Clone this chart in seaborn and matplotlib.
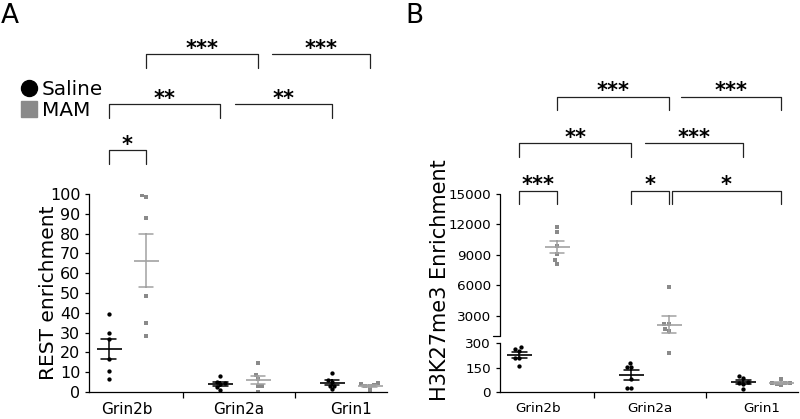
import numpy as np
import pandas as pd
import matplotlib
matplotlib.use("Agg")
import matplotlib.pyplot as plt
import matplotlib.ticker as mticker
import seaborn as sns
from matplotlib.lines import Line2D

# ---------------- data ----------------
genes = ["Grin2b", "Grin2a", "Grin1"]
groups = ["Saline", "MAM"]

# Panel A: REST enrichment
rest_saline_grin2b = [39.2, 29.8, 26.8, 16.8, 10.8, 6.7]
rest_mam_grin2b = [99.5, 98.7, 88.0, 48.7, 34.7, 28.5]
rest_saline_grin2a = [8.1, 5.0, 4.6, 3.8, 2.5, 1.2]
rest_mam_grin2a = [14.8, 8.4, 6.4, 3.2, 3.2, 0.2]
rest_saline_grin1 = [9.4, 6.1, 5.2, 3.2, 3.2, 1.3]
rest_mam_grin1 = [4.4, 4.0, 3.5, 3.2, 3.2, 1.0]

# Panel B: H3K27me3 enrichment
h3_saline_grin2b = [279, 265, 254, 207, 207, 159]
h3_mam_grin2b = [11754, 11233, 9915, 9098, 8508, 8145]
h3_saline_grin2a = [180, 155, 155, 79, 25, 25]
h3_mam_grin2a = [5882, 2213, 2180, 1692, 1525, 240]
h3_saline_grin1 = [95, 87, 58, 55, 48, 14]
h3_mam_grin1 = [79, 52, 52, 52, 48, 41]

a_ticks = list(range(0, 101, 10))
b_ticks = [0, 150, 300, 3000, 6000, 9000, 12000, 15000]

# significance brackets: (gene0, group0, shift0, gene1, group1, row, label, left_leg)
brackets_a = [
    ("Grin2b", "Saline", 0.0, "Grin2b", "MAM", 0, "*", True),
    ("Grin2b", "Saline", 0.0, "Grin2a", "Saline", 1, "**", True),
    ("Grin2a", "Saline", 0.135, "Grin1", "Saline", 1, "**", False),
    ("Grin2b", "MAM", 0.0, "Grin2a", "MAM", 2, "***", True),
    ("Grin2a", "MAM", 0.13, "Grin1", "MAM", 2, "***", False),
]
brackets_b = [
    ("Grin2b", "Saline", 0.0, "Grin2b", "MAM", 0, "***", True),
    ("Grin2a", "Saline", 0.0, "Grin2a", "MAM", 0, "*", True),
    ("Grin2a", "MAM", 0.025, "Grin1", "MAM", 0, "*", True),
    ("Grin2b", "Saline", 0.0, "Grin2a", "Saline", 1, "**", True),
    ("Grin2a", "Saline", 0.125, "Grin1", "Saline", 1, "***", False),
    ("Grin2b", "MAM", 0.0, "Grin2a", "MAM", 2, "***", True),
    ("Grin2a", "MAM", 0.11, "Grin1", "MAM", 2, "***", False),
]

DODGE = 0.335
group_offset = {"Saline": -DODGE / 2, "MAM": DODGE / 2}


def long_df(table):
    rows = []
    for (gene, grp), vals in table.items():
        for v in vals:
            rows.append((gene, grp, v))
    df = pd.DataFrame(rows, columns=["gene", "group", "value"])
    # categorical slot of each group within its gene
    df["pos"] = df["gene"].map(genes.index) + df["group"].map(group_offset)
    return df


df_a = long_df({
    ("Grin2b", "Saline"): rest_saline_grin2b, ("Grin2b", "MAM"): rest_mam_grin2b,
    ("Grin2a", "Saline"): rest_saline_grin2a, ("Grin2a", "MAM"): rest_mam_grin2a,
    ("Grin1", "Saline"): rest_saline_grin1, ("Grin1", "MAM"): rest_mam_grin1,
})
df_b = long_df({
    ("Grin2b", "Saline"): h3_saline_grin2b, ("Grin2b", "MAM"): h3_mam_grin2b,
    ("Grin2a", "Saline"): h3_saline_grin2a, ("Grin2a", "MAM"): h3_mam_grin2a,
    ("Grin1", "Saline"): h3_saline_grin1, ("Grin1", "MAM"): h3_mam_grin1,
})

# ---------------- style ----------------
sns.set_theme(style="ticks")
plt.rcParams["font.family"] = ["DejaVu Sans"]
plt.rcParams["axes.linewidth"] = 0.9
plt.rcParams["xtick.major.width"] = 0.9
plt.rcParams["ytick.major.width"] = 0.9
plt.rcParams["xtick.major.size"] = 3
plt.rcParams["ytick.major.size"] = 3
for k in ["text.color", "axes.labelcolor", "xtick.color", "ytick.color", "axes.edgecolor"]:
    plt.rcParams[k] = "black"

SAL = "black"
MAM_PT = "#8a8a8a"
MAM_ERR = "#a2a2a2"

fig = plt.figure(figsize=(8.0, 4.19), dpi=100)
W, H = 800.0, 419.0
ax_a = fig.add_axes([89.3 / W, (H - 392) / H, 297.4 / W, 198 / H])
ax_b = fig.add_axes([500 / W, (H - 391.7) / H, 298 / W, 197.7 / H])

# broken scale for panel B: 0-300 lower, 1000-15000 upper
LOW_TOP, UP_BOT, UP_TOP = 300.0, 1000.0, 15000.0
P_LOW, P_GAP, P_UP = 48.4, 7.0, 142.3


def fwd(y):
    y = np.asarray(y, dtype=float)
    return np.where(
        y <= LOW_TOP, y * P_LOW / LOW_TOP,
        np.where(y <= UP_BOT, P_LOW + (y - LOW_TOP) * P_GAP / (UP_BOT - LOW_TOP),
                 P_LOW + P_GAP + (y - UP_BOT) * P_UP / (UP_TOP - UP_BOT)))


def inv(p):
    p = np.asarray(p, dtype=float)
    return np.where(
        p <= P_LOW, p * LOW_TOP / P_LOW,
        np.where(p <= P_LOW + P_GAP, LOW_TOP + (p - P_LOW) * (UP_BOT - LOW_TOP) / P_GAP,
                 UP_BOT + (p - P_LOW - P_GAP) * (UP_TOP - UP_BOT) / P_UP))


ax_b.set_yscale("function", functions=(fwd, inv))


def draw_panel(ax, df, ylim, xpad):
    ax.set_xlim(-0.34, 2.32)
    ax.set_ylim(*ylim)
    for grp, marker, col in [("Saline", "o", SAL), ("MAM", "s", MAM_PT)]:
        sns.swarmplot(data=df[df.group == grp], x="pos", y="value", native_scale=True,
                      color=col, marker=marker, size=3.1, linewidth=0,
                      legend=False, ax=ax)
    sns.pointplot(data=df, x="pos", y="value", hue="group", native_scale=True,
                  hue_order=groups, palette={"Saline": SAL, "MAM": MAM_ERR},
                  errorbar="se", capsize=0.13 / DODGE, markers="_",
                  linestyles="none", markersize=18, markeredgewidth=1.2,
                  err_kws={"linewidth": 1.1}, legend=False, ax=ax)
    ax.set_ylim(*ylim)
    ax.set_xlim(-0.34, 2.32)
    ax.set_xlabel("")
    for c in ax.collections:
        c.set_zorder(2)
    for l in ax.lines:
        l.set_zorder(3)
    sns.despine(ax=ax)
    ax.set_xticks([0.5, 1.5])
    ax.set_xticklabels([])
    ax.set_xticks([0, 1, 2], minor=True)
    ax.set_xticklabels(genes, minor=True)
    ax.tick_params(axis="x", which="minor", length=0, pad=xpad)
    ax.tick_params(axis="x", which="major", length=4)


def xpos(gene, grp):
    return genes.index(gene) + group_offset[grp]


def draw_brackets(ax, brackets, rows, leg, ypad):
    tr = ax.get_xaxis_transform()
    for g0, p0, s0, g1, p1, row, label, left_leg in brackets:
        x0 = xpos(g0, p0) + s0
        x1 = xpos(g1, p1)
        y = rows[row]
        if left_leg:
            xs, ys = [x0, x0, x1, x1], [y - leg, y, y, y - leg]
        else:
            xs, ys = [x0, x1, x1], [y, y, y - leg]
        ax.plot(xs, ys, color="#222222", lw=0.9, transform=tr, clip_on=False)
        ax.annotate(label, xy=((x0 + x1) / 2, y), xycoords=tr, xytext=(0, ypad),
                    textcoords="offset points", ha="center", va="baseline",
                    fontsize=15, fontweight="bold", annotation_clip=False)


# ----- panel A -----
draw_panel(ax_a, df_a, (0, 100), 7)
ax_a.set_yticks(a_ticks)
ax_a.tick_params(axis="y", labelsize=11.5)
ax_a.tick_params(axis="x", which="minor", labelsize=11)
ax_a.set_ylabel("REST enrichment", fontsize=14.5)
ax_a.yaxis.set_label_coords(-0.105, 0.5)
draw_brackets(ax_a, brackets_a, [1.222, 1.455, 1.707], 0.0707, -0.5)

# ----- panel B -----
draw_panel(ax_b, df_b, (0, 15000), 7.5)
ax_b.set_yticks(b_ticks)
ax_b.set_yticklabels([str(t) for t in b_ticks])
ax_b.yaxis.set_minor_locator(mticker.NullLocator())
ax_b.tick_params(axis="y", labelsize=9.7)
ax_b.tick_params(axis="x", which="minor", labelsize=9.7)
ax_b.set_ylabel("H3K27me3 Enrichment", fontsize=15)
ax_b.yaxis.set_label_coords(-0.168, 0.565)
ax_b.spines["left"].set_bounds(0, LOW_TOP)
ax_b.plot([0, 0], [UP_BOT, UP_TOP], color="black", lw=0.9,
          transform=ax_b.get_yaxis_transform(), clip_on=False)
ax_b.plot([-0.025, 0], [UP_BOT, UP_BOT], color="black", lw=0.9,
          transform=ax_b.get_yaxis_transform(), clip_on=False)
draw_brackets(ax_b, brackets_b, [1.017, 1.256, 1.492], 0.069, -0.5)

# legend
handles = [
    Line2D([], [], marker="o", color=SAL, linestyle="none", markersize=11.5),
    Line2D([], [], marker="s", color=MAM_PT, linestyle="none", markersize=11),
]
fig.legend(handles=handles, labels=groups, loc="center left",
           bbox_to_anchor=(21 / W, 1 - 99.7 / H), frameon=False,
           handlelength=0.8, handletextpad=0.25, borderpad=0, borderaxespad=0,
           labelspacing=0.1, fontsize=14.4)

fig.text(1 / W, 1 - 3 / H, "A", fontsize=19, ha="left", va="top")
fig.text(405 / W, 1 - 3 / H, "B", fontsize=19, ha="left", va="top")

fig.savefig("out.png", dpi=100)
